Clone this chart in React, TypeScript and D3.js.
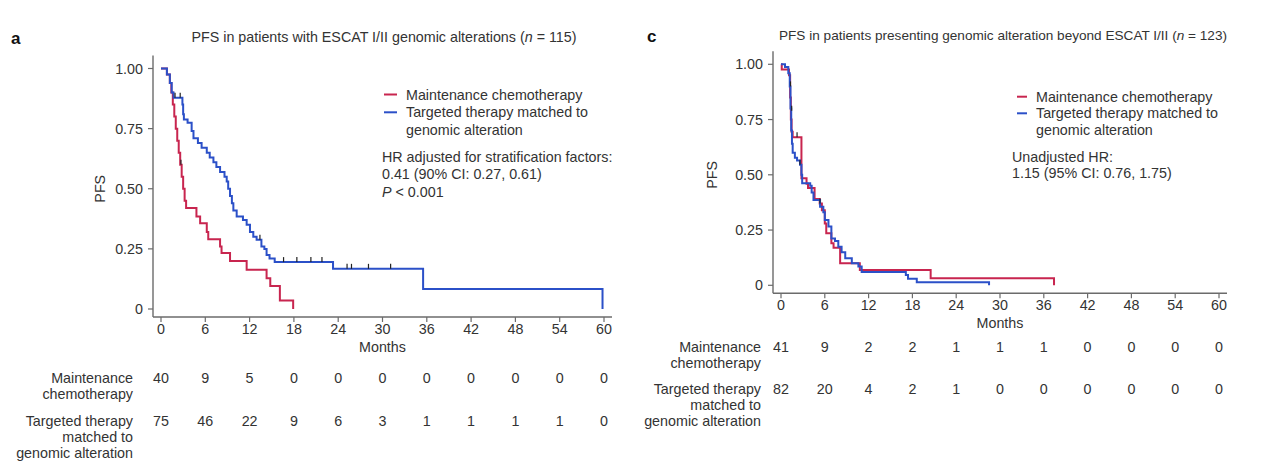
import React from "react";
import * as d3 from "d3";

const FONT = "'Liberation Sans', Arial, Helvetica, sans-serif";
const FS = 14.3;
const TEXT = "#333333";
const AXIS = "#6b6b6b";
const RED = "#c8254f";
const BLUE = "#2b50c8";
const CENSOR = "#222222";

// shared axis values
const monthTicks = [0, 6, 12, 18, 24, 30, 36, 42, 48, 54, 60];
const survTicks = [0, 0.25, 0.5, 0.75, 1];
const survTickLabels = ["0", "0.25", "0.50", "0.75", "1.00"];

// ---------- Panel a : ESCAT I/II (n = 115) ----------
const aChemoTimes = [0, 0.8, 1.2, 1.4, 1.6, 1.8, 2.0, 2.2, 2.4, 2.6, 2.8, 3.0, 3.2, 3.4, 4.8, 5.3, 6.2, 6.4, 8.0, 8.2, 9.35, 11.6, 14.3, 14.8, 16.1, 17.9];
const aChemoSurv = [1, 0.975, 0.94, 0.9, 0.85, 0.8, 0.75, 0.7, 0.65, 0.6, 0.55, 0.5, 0.45, 0.42, 0.385, 0.357, 0.32, 0.29, 0.26, 0.233, 0.2, 0.163, 0.128, 0.096, 0.035, 0];
const aTargetTimes = [0, 0.8, 1.2, 1.45, 1.7, 2.9, 3.0, 3.1, 3.6, 4.15, 4.4, 5.0, 5.5, 6.2, 6.6, 7.1, 7.5, 8.0, 8.6, 8.9, 9.1, 9.35, 9.6, 9.8, 10.25, 11.1, 11.6, 12.05, 12.5, 12.95, 13.6, 14.0, 14.3, 14.7, 15.4, 23.3, 35.5, 59.8];
const aTargetSurv = [1, 0.975, 0.94, 0.9, 0.878, 0.85, 0.81, 0.788, 0.774, 0.74, 0.71, 0.69, 0.67, 0.65, 0.63, 0.61, 0.59, 0.57, 0.55, 0.53, 0.5, 0.47, 0.44, 0.41, 0.385, 0.37, 0.35, 0.32, 0.3, 0.288, 0.26, 0.25, 0.225, 0.21, 0.195, 0.167, 0.083, 0];
const aCensorTimes = [1.9, 2.6, 2.7, 13.4, 16.6, 18.4, 20.3, 21.8, 25.2, 25.8, 28.1, 31.1];
const aCensorSurv = [0.878, 0.878, 0.6, 0.288, 0.195, 0.195, 0.195, 0.195, 0.167, 0.167, 0.167, 0.167];
const aRiskChemo = [40, 9, 5, 0, 0, 0, 0, 0, 0, 0, 0];
const aRiskTarget = [75, 46, 22, 9, 6, 3, 1, 1, 1, 1, 0];

// ---------- Panel c : beyond ESCAT I/II (n = 123) ----------
const cChemoTimes = [0, 0.1, 1.1, 1.25, 1.35, 1.45, 1.6, 2.8, 3.5, 3.7, 4.6, 5.3, 5.6, 6.0, 6.2, 6.9, 7.2, 8.1, 10.8, 20.5, 37.4];
const cChemoSurv = [1, 0.976, 0.95, 0.85, 0.75, 0.695, 0.67, 0.484, 0.46, 0.44, 0.39, 0.37, 0.34, 0.28, 0.235, 0.19, 0.17, 0.1, 0.069, 0.032, 0];
const cTargetTimes = [0, 0.55, 1.0, 1.2, 1.3, 1.4, 1.5, 1.6, 1.9, 2.2, 2.6, 2.8, 2.9, 4.0, 4.2, 4.45, 5.35, 5.8, 6.0, 6.5, 6.9, 7.4, 7.85, 8.3, 8.8, 9.7, 10.6, 11.05, 17.1, 17.4, 18.6, 28.5];
const cTargetSurv = [1, 0.988, 0.96, 0.9, 0.8, 0.7, 0.64, 0.6, 0.577, 0.565, 0.545, 0.5, 0.462, 0.45, 0.42, 0.386, 0.355, 0.33, 0.296, 0.266, 0.212, 0.2, 0.175, 0.15, 0.122, 0.1, 0.085, 0.06, 0.047, 0.03, 0.014, 0];
const cCensorTimes = [1.3, 1.46, 2.2, 2.6, 5.34];
const cCensorSurv = [0.9, 0.79, 0.67, 0.545, 0.37];
const cRiskChemo = [41, 9, 2, 2, 1, 1, 1, 0, 0, 0, 0];
const cRiskTarget = [82, 20, 4, 2, 1, 0, 0, 0, 0, 0, 0];

const chemoLabel = ["Maintenance", "chemotherapy"];
const targetLabel = ["Targeted therapy", "matched to", "genomic alteration"];
const legendChemo = ["Maintenance chemotherapy"];
const legendTarget = ["Targeted therapy matched to", "genomic alteration"];

function KMPanel(p: any) {
  const x = d3.scaleLinear().domain([0, 60]).range([p.x0, p.x1]);
  const y = d3.scaleLinear().domain([0, 1]).range([p.y0, p.y1]);
  const line = d3
    .line<[number, number]>()
    .x((d) => x(d[0]))
    .y((d) => y(d[1]))
    .curve(d3.curveStepAfter);
  const axX = p.x0 - 8;
  const axY = p.y0 + 8;
  const chemoPts = p.chemoT.map((t: number, i: number) => [t, p.chemoS[i]] as [number, number]);
  const targetPts = p.targetT.map((t: number, i: number) => [t, p.targetS[i]] as [number, number]);

  return (
    <g fontFamily={FONT} fill={TEXT}>
      <text x={p.letterX} y={p.letterY} fontSize={17} fontWeight="bold" fill="#111">
        {p.letter}
      </text>
      <text x={p.titleX} y={p.titleY} fontSize={p.titleSize} textAnchor="middle">
        {p.title} (<tspan fontStyle="italic">n</tspan> = {p.n})
      </text>

      {/* y axis */}
      <line x1={axX} x2={axX} y1={p.y1 - 13} y2={axY} stroke={AXIS} strokeWidth={1.4} />
      {survTicks.map((v, i) => (
        <g key={"yt" + i}>
          <line x1={axX - 5} x2={axX} y1={y(v)} y2={y(v)} stroke={AXIS} strokeWidth={1.2} />
          <text x={axX - 10} y={y(v)} fontSize={FS} textAnchor="end" dominantBaseline="central">
            {survTickLabels[i]}
          </text>
        </g>
      ))}
      <text
        transform={`translate(${p.pfsX},${(p.y0 + p.y1) / 2}) rotate(-90)`}
        fontSize={FS}
        textAnchor="middle"
        dominantBaseline="central"
      >
        PFS
      </text>

      {/* x axis */}
      <line x1={axX} x2={p.x1 + 8} y1={axY} y2={axY} stroke={AXIS} strokeWidth={1.4} />
      {monthTicks.map((m, i) => (
        <g key={"xt" + i}>
          <line x1={x(m)} x2={x(m)} y1={axY} y2={axY + 5} stroke={AXIS} strokeWidth={1.2} />
          <text x={x(m)} y={axY + 12} fontSize={FS} textAnchor="middle" dominantBaseline="central">
            {m}
          </text>
        </g>
      ))}
      <text x={(p.x0 + p.x1) / 2} y={axY + 30} fontSize={FS} textAnchor="middle" dominantBaseline="central">
        Months
      </text>

      {/* curves */}
      <path d={line(chemoPts) || ""} fill="none" stroke={RED} strokeWidth={2} />
      <path d={line(targetPts) || ""} fill="none" stroke={BLUE} strokeWidth={2} />
      {p.censorT.map((t: number, i: number) => (
        <line
          key={"c" + i}
          x1={x(t)}
          x2={x(t)}
          y1={y(p.censorS[i])}
          y2={y(p.censorS[i]) - 5}
          stroke={CENSOR}
          strokeWidth={1.2}
        />
      ))}

      {/* legend */}
      <line x1={p.legX} x2={p.legX + p.legDash} y1={p.legY} y2={p.legY} stroke={RED} strokeWidth={2} />
      <line
        x1={p.legX}
        x2={p.legX + p.legDash}
        y1={p.legY + p.legStep}
        y2={p.legY + p.legStep}
        stroke={BLUE}
        strokeWidth={2}
      />
      {legendChemo.map((s, i) => (
        <text key={"lc" + i} x={p.legTextX} y={p.legY} fontSize={FS} dominantBaseline="central">
          {s}
        </text>
      ))}
      {legendTarget.map((s, i) => (
        <text
          key={"lt" + i}
          x={p.legTextX}
          y={p.legY + p.legStep * (i + 1)}
          fontSize={FS}
          dominantBaseline="central"
        >
          {s}
        </text>
      ))}
      {p.hrLines.map((s: any, i: number) => (
        <text key={"hr" + i} x={p.hrX} y={p.hrY + i * p.hrStep} fontSize={FS} dominantBaseline="central">
          {s}
        </text>
      ))}

      {/* risk table */}
      {chemoLabel.map((s, i) => (
        <text key={"rl1" + i} x={p.riskLabelX} y={p.riskY1 + i * 16} fontSize={FS} textAnchor="end" dominantBaseline="central">
          {s}
        </text>
      ))}
      {targetLabel.map((s, i) => (
        <text key={"rl2" + i} x={p.riskLabelX} y={p.riskY2 + i * 16} fontSize={FS} textAnchor="end" dominantBaseline="central">
          {s}
        </text>
      ))}
      {p.riskChemo.map((v: number, i: number) => (
        <text key={"r1" + i} x={x(monthTicks[i])} y={p.riskY1} fontSize={FS} textAnchor="middle" dominantBaseline="central">
          {v}
        </text>
      ))}
      {p.riskTarget.map((v: number, i: number) => (
        <text key={"r2" + i} x={x(monthTicks[i])} y={p.riskY2} fontSize={FS} textAnchor="middle" dominantBaseline="central">
          {v}
        </text>
      ))}
    </g>
  );
}

export default function App() {
  return (
    <svg
      width={1269}
      height={472}
      style={{ position: "absolute", left: 0, top: 0, background: "#ffffff" }}
    >
      <rect x={0} y={0} width={1269} height={472} fill="#ffffff" />
      <KMPanel
        letter="a"
        letterX={11}
        letterY={44}
        title="PFS in patients with ESCAT I/II genomic alterations"
        n={115}
        titleX={384}
        titleY={42}
        titleSize={14.3}
        x0={161}
        x1={604}
        y0={309}
        y1={68.5}
        pfsX={100}
        chemoT={aChemoTimes}
        chemoS={aChemoSurv}
        targetT={aTargetTimes}
        targetS={aTargetSurv}
        censorT={aCensorTimes}
        censorS={aCensorSurv}
        legX={384}
        legDash={13}
        legY={94.5}
        legStep={17.8}
        legTextX={406}
        hrX={382}
        hrY={157}
        hrStep={17.3}
        hrLines={[
          "HR adjusted for stratification factors:",
          "0.41 (90% CI: 0.27, 0.61)",
          <>
            <tspan fontStyle="italic">P</tspan> &lt; 0.001
          </>,
        ]}
        riskLabelX={133}
        riskY1={378}
        riskY2={421}
        riskChemo={aRiskChemo}
        riskTarget={aRiskTarget}
      />
      <KMPanel
        letter="c"
        letterX={647}
        letterY={42}
        title="PFS in patients presenting genomic alteration beyond ESCAT I/II"
        n={123}
        titleX={1003}
        titleY={40}
        titleSize={13.6}
        x0={781}
        x1={1219}
        y0={285.3}
        y1={64.3}
        pfsX={712}
        chemoT={cChemoTimes}
        chemoS={cChemoSurv}
        targetT={cTargetTimes}
        targetS={cTargetSurv}
        censorT={cCensorTimes}
        censorS={cCensorSurv}
        legX={1017}
        legDash={10}
        legY={96.7}
        legStep={16.6}
        legTextX={1036}
        hrX={1012}
        hrY={156.7}
        hrStep={15.8}
        hrLines={["Unadjusted HR:", "1.15 (95% CI: 0.76, 1.75)"]}
        riskLabelX={761}
        riskY1={347}
        riskY2={389}
        riskChemo={cRiskChemo}
        riskTarget={cRiskTarget}
      />
    </svg>
  );
}
